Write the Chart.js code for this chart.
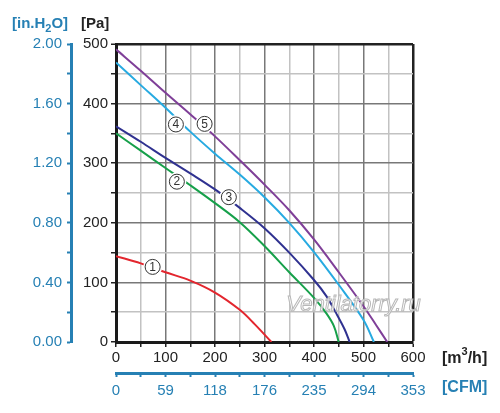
<!DOCTYPE html>
<html><head><meta charset="utf-8">
<script src="https://cdn.jsdelivr.net/npm/chart.js@4.4.0/dist/chart.umd.min.js"></script>
<style>html,body{margin:0;padding:0;background:#fff;overflow:hidden}</style>
</head><body>
<canvas id="c" width="500" height="413"></canvas>
<script>
// ---- data ----
const cfmLabels = ['0','59','118','176','235','294','353'];   // at 0,100,...,600 m3/h
const inH2OLabels = ['0.00','0.40','0.80','1.20','1.60','2.00']; // at 0,100,...,500 Pa
const curveNames = ['1','2','3','4','5'];

const q1 = [0,50,100,150,200,250,280,314];
const p1 = [144,132,117,103,83,54,30,0];
const q2 = [0,50,100,150,200,250,300,350,400,425,440,450];
const p2 = [350,321,292,263,233,201,161,117,74,48,27,0];
const q3 = [0,50,100,150,200,250,300,350,400,425,445,462,472];
const p3 = [362,336,309,283,256,225,191,150,104,77,48,21,0];
const q4 = [0,50,100,150,200,250,300,350,400,450,500,521];
const p4 = [469,431,393,353,316,281,243,200,151,96,37,0];
const q5 = [0,50,100,150,200,250,300,350,400,450,500,525,548];
const p5 = [491,455,418,382,345,305,264,221,172,117,60,29,0];

const labelQ = [74,123,228,121,179];
const labelP = [126,269,243,365,366];
const watermark = 'Ventilatorry.ru';
const watermarkAt = [480,62];

// ---- styles ----
const colors = ['#e3262e','#16a04a','#2f3190','#27aae1','#7f3f98'];
const BLUE = '#2680b4';
const FONT = '"Liberation Sans", Arial, sans-serif';

const qs = [q1,q2,q3,q4,q5], ps = [p1,p2,p3,p4,p5];
const datasets = qs.map((q,i)=>({
  label: curveNames[i],
  data: q.map((v,j)=>({x:v, y:ps[i][j]})),
  borderColor: colors[i],
  borderWidth: 2,
  pointRadius: 0,
  fill: false,
  tension: 0.35
}));

const gridColor = (max) => (ctx) => {
  const v = ctx.tick.value;
  if (v === max) return '#222';
  return v % 100 === 0 ? '#787878' : '#c2c2c2';
};
const gridWidth = (max) => (ctx) => ctx.tick.value === max ? 2.5 : 1.5;

const extras = {
  id: 'extras',
  afterDatasetsDraw(chart) {
    const {ctx, scales:{x, y}} = chart;
    ctx.save();
    // watermark
    ctx.font = 'italic 22px ' + FONT;
    ctx.textAlign = 'center'; ctx.textBaseline = 'middle';
    const wx = x.getPixelForValue(watermarkAt[0]), wy = y.getPixelForValue(watermarkAt[1]);
    ctx.fillStyle = 'rgba(255,255,255,0.8)';
    ctx.fillText(watermark, wx, wy);
    ctx.strokeStyle = '#b8b8b8'; ctx.lineWidth = 1;
    ctx.strokeText(watermark, wx, wy);
    // circled curve labels
    curveNames.forEach((n,i)=>{
      const cx = x.getPixelForValue(labelQ[i]), cy = y.getPixelForValue(labelP[i]);
      ctx.beginPath(); ctx.arc(cx, cy, 9.5, 0, Math.PI*2); ctx.fillStyle = '#fff'; ctx.fill();
      ctx.beginPath(); ctx.arc(cx, cy, 7.5, 0, Math.PI*2); ctx.lineWidth = 1; ctx.strokeStyle = '#333'; ctx.stroke();
      ctx.fillStyle = '#333'; ctx.font = '12px ' + FONT;
      ctx.fillText(n, cx, cy + 0.5);
    });
    // unit labels
    ctx.textAlign = 'left'; ctx.textBaseline = 'alphabetic';
    const top = chart.chartArea.top, right = chart.chartArea.right, bottom = chart.chartArea.bottom;
    // [in.H2O]
    let px = 12, base = top - 16;
    ctx.fillStyle = BLUE;
    ctx.font = 'bold 15px ' + FONT;
    ctx.fillText('[in.H', px, base); px += ctx.measureText('[in.H').width;
    ctx.font = 'bold 11px ' + FONT;
    ctx.fillText('2', px, base + 4); px += ctx.measureText('2').width;
    ctx.font = 'bold 15px ' + FONT;
    ctx.fillText('O]', px, base);
    // [Pa]
    ctx.fillStyle = '#222';
    ctx.fillText('[Pa]', 81, base);
    // [m3/h]
    px = right + 29; base = bottom + 21;
    ctx.font = 'bold 16px ' + FONT;
    ctx.fillText('[m', px, base); px += ctx.measureText('[m').width;
    ctx.font = 'bold 11px ' + FONT;
    ctx.fillText('3', px, base - 8); px += ctx.measureText('3').width;
    ctx.font = 'bold 16px ' + FONT;
    ctx.fillText('/h]', px, base);
    // [CFM]
    ctx.fillStyle = BLUE;
    ctx.fillText('[CFM]', right + 29, bottom + 50);
    ctx.restore();
  }
};

new Chart(document.getElementById('c'), {
  type: 'line',
  data: { datasets },
  options: {
    responsive: false,
    animation: false,
    layout: { padding: { left: 0, right: 87, top: 44, bottom: 10 } },
    plugins: { legend: { display: false }, tooltip: { enabled: false } },
    scales: {
      x: {
        type: 'linear', position: 'bottom', min: 0, max: 600, weight: 0,
        ticks: { stepSize: 50, autoSkip: false, maxRotation: 0, padding: 2,
          color: '#222', font: { family: FONT, size: 15 },
          callback: v => v % 100 === 0 ? String(v) : '' },
        grid: { color: gridColor(600), lineWidth: gridWidth(600), tickColor: '#222', tickLength: 5, tickWidth: 1.5 },
        border: { color: '#1a1a1a', width: 3 },
        afterFit: s => { s.height = 31; }
      },
      cfm: {
        type: 'linear', position: 'bottom', min: 0, max: 600, weight: 1,
        ticks: { stepSize: 50, autoSkip: false, maxRotation: 0, padding: 5,
          color: BLUE, font: { family: FONT, size: 15 },
          callback: v => v % 100 === 0 ? cfmLabels[v/100] : '' },
        grid: { drawOnChartArea: false, color: BLUE, tickColor: BLUE, tickLength: 4, tickWidth: 2 },
        border: { color: BLUE, width: 3 },
        afterFit: s => { s.height = 30; }
      },
      y: {
        type: 'linear', position: 'left', min: 0, max: 500, weight: 0,
        ticks: { stepSize: 50, autoSkip: false, padding: 3,
          color: '#222', font: { family: FONT, size: 15 },
          callback: v => v % 100 === 0 ? String(v) : '' },
        grid: { color: gridColor(500), lineWidth: gridWidth(500), tickColor: '#222', tickLength: 5, tickWidth: 1.5 },
        border: { color: '#1a1a1a', width: 3 },
        afterFit: s => { s.width = 45; }
      },
      inh2o: {
        type: 'linear', position: 'left', min: 0, max: 500, weight: 1,
        ticks: { stepSize: 50, autoSkip: false, padding: 5,
          color: BLUE, font: { family: FONT, size: 15 },
          callback: v => v % 100 === 0 ? inH2OLabels[v/100] : '' },
        grid: { drawOnChartArea: false, color: BLUE, tickColor: BLUE, tickLength: 4, tickWidth: 2 },
        border: { color: BLUE, width: 3 },
        afterFit: s => { s.width = 71; }
      }
    }
  },
  plugins: [extras]
});
</script>
</body></html>
